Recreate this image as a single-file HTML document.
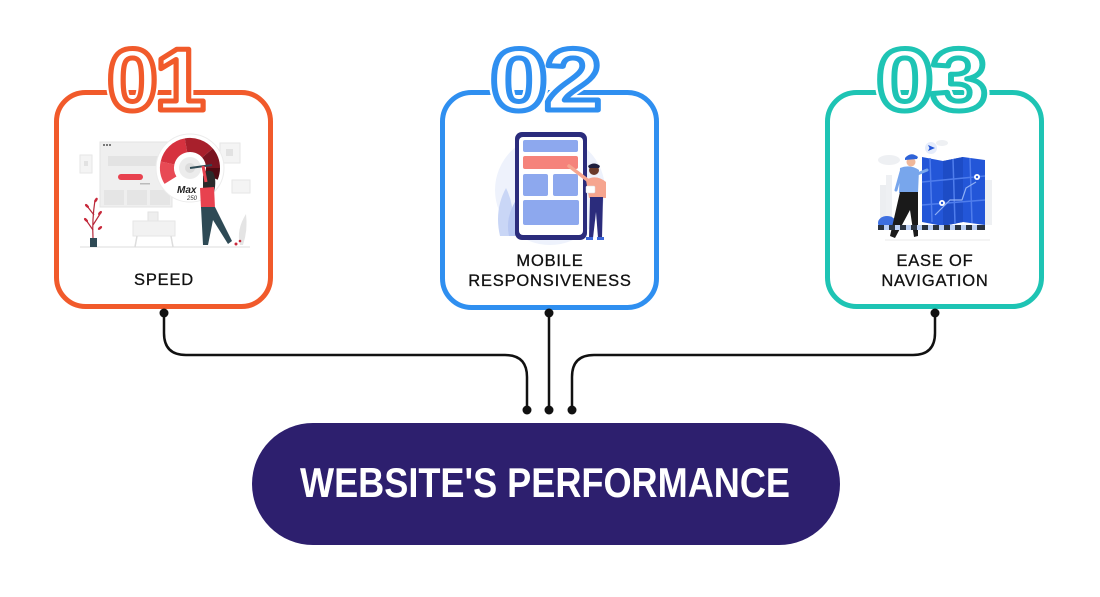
<!DOCTYPE html>
<html><head><meta charset="utf-8"><style>
html,body{margin:0;padding:0;background:#fff;}
svg{display:block;}
</style></head><body>
<svg width="1100" height="597" viewBox="0 0 1100 597" xmlns="http://www.w3.org/2000/svg">
<rect width="1100" height="597" fill="#fff"/>

<!-- Cards -->
<rect x="56.5" y="92.5" width="214" height="214" rx="29" fill="#fff" stroke="#F15A2B" stroke-width="5"/>
<rect x="442.5" y="92.5" width="214" height="215" rx="29" fill="#fff" stroke="#2F8FF0" stroke-width="5"/>
<rect x="827.5" y="92.5" width="214" height="214" rx="29" fill="#fff" stroke="#1EC4B4" stroke-width="5"/>

<!-- Numbers -->
<g font-family="Liberation Sans, Arial, sans-serif" font-weight="bold" font-size="88" letter-spacing="-3" stroke-linejoin="round">
  <text transform="translate(107,110) scale(1.04,1)" x="0" y="0" fill="#fff" stroke="#fff" stroke-width="9">01</text>
  <text transform="translate(107,110) scale(1.04,1)" x="0" y="0" fill="#fff" stroke="#F15A2B" stroke-width="5">01</text>
  <text transform="translate(490,110) scale(1.18,1)" x="0" y="0" fill="#fff" stroke="#fff" stroke-width="9">02</text>
  <text transform="translate(490,110) scale(1.18,1)" x="0" y="0" fill="#fff" stroke="#2F8FF0" stroke-width="5">02</text>
  <text transform="translate(876,110) scale(1.18,1)" x="0" y="0" fill="#fff" stroke="#fff" stroke-width="9">03</text>
  <text transform="translate(876,110) scale(1.18,1)" x="0" y="0" fill="#fff" stroke="#1EC4B4" stroke-width="5">03</text>
</g>

<!-- Illustration 1: Speed -->
<g>
  <line x1="80" y1="247" x2="250" y2="247" stroke="#e8e8e8" stroke-width="1.5"/>
  <rect x="80" y="155" width="12" height="18" fill="#f4f4f4" stroke="#e6e6e6"/>
  <rect x="84" y="161" width="4" height="5" fill="#e2e2e2"/>
  <rect x="100" y="142" width="72" height="65" fill="#efefef" stroke="#e3e3e3"/>
  <circle cx="104" cy="145" r="1" fill="#555"/><circle cx="107" cy="145" r="1" fill="#555"/><circle cx="110" cy="145" r="1" fill="#555"/>
  <rect x="108" y="156" width="52" height="10" fill="#e3e3e3"/>
  <rect x="118" y="174" width="25" height="6" rx="3" fill="#E8424F"/>
  <rect x="140" y="183" width="10" height="1.5" fill="#bbb"/>
  <rect x="104" y="190" width="20" height="15" fill="#e5e5e5"/>
  <rect x="127" y="190" width="20" height="15" fill="#e5e5e5"/>
  <rect x="150" y="190" width="20" height="15" fill="#e5e5e5"/>
  <rect x="220" y="143" width="20" height="20" fill="#f4f4f4" stroke="#e6e6e6"/>
  <rect x="226" y="149" width="7" height="7" fill="#e2e2e2"/>
  <rect x="232" y="180" width="18" height="13" fill="#f4f4f4" stroke="#e6e6e6"/>
  <!-- desk -->
  <rect x="148" y="212" width="10" height="9" fill="#eee" stroke="#e2e2e2"/>
  <rect x="133" y="221" width="42" height="15" fill="#f2f2f2" stroke="#e6e6e6"/>
  <line x1="137" y1="236" x2="135" y2="247" stroke="#ddd" stroke-width="1.5"/>
  <line x1="171" y1="236" x2="173" y2="247" stroke="#ddd" stroke-width="1.5"/>
  <!-- gauge -->
  <circle cx="190" cy="168" r="34" fill="#fff" stroke="#ececec"/>
  <g fill="none" stroke-width="14">
    <path d="M170.5,180.2 A23,23 0 0 1 167.5,163" stroke="#E84A55"/>
    <path d="M167.5,163 A23,23 0 0 1 186,145.3" stroke="#D6323F"/>
    <path d="M186,145.3 A23,23 0 0 1 207.5,153" stroke="#A8202C"/>
    <path d="M207.5,153 A23,23 0 0 1 213,168" stroke="#7A1420"/>
    <path d="M213,168 A23,23 0 0 1 211.2,177" stroke="#4E0A12"/>
  </g>
  <circle cx="190" cy="168" r="11" fill="#ececec"/>
  <circle cx="190" cy="168" r="5" fill="#dcdcdc"/>
  <line x1="190" y1="168" x2="212" y2="165" stroke="#2E4A55" stroke-width="2"/>
  <text x="177" y="193" font-family="Liberation Sans, sans-serif" font-weight="bold" font-style="italic" font-size="10" fill="#222">Max</text>
  <text x="187" y="200" font-family="Liberation Sans, sans-serif" font-style="italic" font-size="6" fill="#333">250</text>
  <!-- woman -->
  <path d="M203,176 Q206,168 213,172 Q217,180 214,192 L203,190 Z" fill="#2a2a2a"/>
  <line x1="206" y1="182" x2="203" y2="166" stroke="#E8424F" stroke-width="3"/>
  <path d="M200,188 L214,187 L215,208 L201,208 Z" fill="#E8424F"/>
  <path d="M201,207 L215,207 L232,241 L228,244 L213,220 L208,245 L203,245 Z" fill="#2E4A55"/>
  <!-- plants -->
  <g stroke="#B7283A" stroke-width="1.2" fill="none">
    <path d="M93,238 Q92,220 95,200"/>
    <path d="M93,225 L100,214"/><path d="M94,215 L87,206"/><path d="M93,230 L86,220"/>
  </g>
  <g fill="#C8283A">
    <ellipse cx="100" cy="213" rx="2.5" ry="1.3" transform="rotate(-50 100 213)"/>
    <ellipse cx="87" cy="206" rx="2.5" ry="1.3" transform="rotate(45 87 206)"/>
    <ellipse cx="86" cy="220" rx="2.5" ry="1.3" transform="rotate(45 86 220)"/>
    <ellipse cx="96" cy="200" rx="2.5" ry="1.3" transform="rotate(-60 96 200)"/>
    <ellipse cx="100" cy="228" rx="2.5" ry="1.3" transform="rotate(-40 100 228)"/>
  </g>
  <rect x="90" y="238" width="7" height="9" fill="#2E4A55"/>
  <path d="M240,245 Q236,230 246,214 Q248,230 243,245 Z" fill="#e4e4e4"/>
  <circle cx="236" cy="244" r="1.5" fill="#C8283A"/><circle cx="240" cy="241" r="1.3" fill="#C8283A"/>
</g>

<!-- Illustration 2: Mobile -->
<g>
  <circle cx="550" cy="190" r="55" fill="#EEF2FC"/>
  <path d="M500,236 Q494,210 506,188 Q516,208 512,236 Z" fill="#C9D6F6"/>
  <path d="M509,236 Q505,218 516,200 Q520,218 516,236 Z" fill="#B7C7F2"/>
  <rect x="515" y="132" width="72" height="108" rx="7" fill="#2B2C7C"/>
  <rect x="519" y="137" width="64" height="98" rx="4" fill="#fff"/>
  <rect x="523" y="140" width="55" height="12" rx="2" fill="#8DA8EE"/>
  <rect x="523" y="156" width="55" height="13" rx="2" fill="#F5837B"/>
  <rect x="523" y="174" width="25" height="22" rx="2" fill="#8DA8EE"/>
  <rect x="553" y="174" width="25" height="22" rx="2" fill="#8DA8EE"/>
  <rect x="523" y="200" width="56" height="25" rx="2" fill="#8DA8EE"/>
  <!-- man -->
  <line x1="590" y1="182" x2="569" y2="166" stroke="#F6A58F" stroke-width="3.5" stroke-linecap="round"/>
  <circle cx="594" cy="170" r="5" fill="#6B3A2A"/>
  <path d="M588,166 Q594,161 600,166 L599,168 L589,168 Z" fill="#1E1E3E"/>
  <path d="M586,180 Q596,174 606,182 L606,198 L589,198 Z" fill="#F6A58F"/>
  <rect x="586" y="186" width="9" height="7" rx="1" fill="#fff" stroke="#ddd" stroke-width="0.5"/>
  <path d="M590,197 L603,197 L602,238 L598,238 L596,212 L593,238 L589,238 Z" fill="#2B2C7C"/>
  <rect x="586" y="237" width="7" height="3" fill="#3C66D8"/><rect x="597" y="237" width="7" height="3" fill="#3C66D8"/>
</g>

<!-- Illustration 3: Navigation -->
<g>
  <ellipse cx="889" cy="160" rx="11" ry="5" fill="#eef0f3"/>
  <ellipse cx="942" cy="143" rx="6" ry="3" fill="#eef0f3"/>
  <rect x="880" y="185" width="8" height="40" fill="#eceef1"/>
  <rect x="886" y="175" width="6" height="50" fill="#eef0f3"/>
  <rect x="985" y="180" width="7" height="45" fill="#eef0f3"/>
  <ellipse cx="887" cy="223" rx="9" ry="7" fill="#3D6FE0"/>
  <!-- map -->
  <path d="M922,157 L943,161 L963,157 L985,160 L985,225 L963,222 L943,226 L922,222 Z" fill="#2356D8"/>
  <path d="M943,161 L963,157 L963,222 L943,226 Z" fill="#1D4CC6"/>
  <g stroke="#4F7DEC" stroke-width="1.5" fill="none">
    <path d="M922,182 L985,176"/><path d="M930,158 L932,222"/>
    <path d="M953,159 L955,224"/><path d="M922,205 L985,200"/>
    <path d="M970,158 L972,223"/>
  </g>
  <path d="M935,215 L950,200 L962,200 L966,188 L976,182" stroke="#8FB0F5" stroke-width="1.2" fill="none"/>
  <circle cx="977" cy="177" r="3" fill="#fff"/><circle cx="977" cy="177" r="1.2" fill="#2356D8"/>
  <circle cx="942" cy="203" r="3" fill="#fff"/><circle cx="942" cy="203" r="1.2" fill="#2356D8"/>
  <circle cx="931" cy="148" r="6" fill="#E5ECFB"/>
  <path d="M928,145 L935,148 L928,151 L929.5,148 Z" fill="#2356D8"/>
  <!-- man -->
  <line x1="915" y1="175" x2="927" y2="170" stroke="#78A6EC" stroke-width="3" stroke-linecap="round"/>
  <circle cx="911" cy="162" r="4.5" fill="#F0B89A"/>
  <path d="M905,158 Q911,151 918,157 L917,159 L905,160 Z" fill="#2E63D8"/>
  <path d="M900,168 Q910,164 919,170 L918,193 L899,193 Z" fill="#78A6EC"/>
  <line x1="901" y1="172" x2="896" y2="190" stroke="#78A6EC" stroke-width="3" stroke-linecap="round"/>
  <path d="M900,192 L918,192 L918,236 L914,237 L910,210 L895,238 L890,236 Z" fill="#1a1a1a"/>
  <!-- road -->
  <rect x="878" y="225" width="107" height="5" fill="#2a3340"/>
  <g fill="#bcd0f5">
    <rect x="884" y="225" width="5" height="5"/><rect x="895" y="225" width="5" height="5"/>
    <rect x="906" y="225" width="5" height="5"/><rect x="917" y="225" width="5" height="5"/>
    <rect x="928" y="225" width="5" height="5"/><rect x="939" y="225" width="5" height="5"/>
    <rect x="950" y="225" width="5" height="5"/><rect x="961" y="225" width="5" height="5"/>
    <rect x="972" y="225" width="5" height="5"/>
  </g>
  <line x1="885" y1="240" x2="990" y2="240" stroke="#f0f0f0" stroke-width="1.5"/>
</g>

<!-- Labels -->
<g font-family="Liberation Sans, Arial, sans-serif" font-size="16.5" fill="#111" text-anchor="middle" letter-spacing="0.8" stroke="#111" stroke-width="0.3">
  <text x="164" y="285">SPEED</text>
  <text x="550" y="266">MOBILE</text>
  <text x="550" y="286">RESPONSIVENESS</text>
  <text x="935" y="266">EASE OF</text>
  <text x="935" y="286">NAVIGATION</text>
</g>

<!-- Connectors -->
<g fill="none" stroke="#111" stroke-width="2.5">
  <path d="M164,313 V333 Q164,355 186,355 H505 Q527,355 527,377 V410"/>
  <path d="M549,313 V410"/>
  <path d="M935,313 V333 Q935,355 913,355 H594 Q572,355 572,377 V410"/>
</g>
<g fill="#111">
  <circle cx="164" cy="313" r="4.5"/>
  <circle cx="549" cy="313" r="4.5"/>
  <circle cx="935" cy="313" r="4.5"/>
  <circle cx="527" cy="410" r="4.5"/>
  <circle cx="549" cy="410" r="4.5"/>
  <circle cx="572" cy="410" r="4.5"/>
</g>

<!-- Bottom pill -->
<rect x="252" y="423" width="588" height="122" rx="61" fill="#2D1F6E"/>
<text x="545" y="497" text-anchor="middle" textLength="490" lengthAdjust="spacingAndGlyphs" font-family="Liberation Sans, Arial, sans-serif" font-weight="bold" font-size="42" fill="#fff">WEBSITE'S PERFORMANCE</text>
</svg>
</body></html>
